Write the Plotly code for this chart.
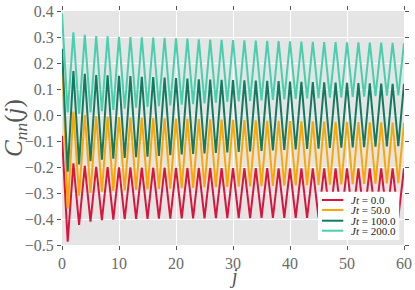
import plotly.graph_objects as go

j = list(range(61))

c_jt0 = [-0.080, -0.487, -0.186, -0.423, -0.196, -0.410, -0.199, -0.404, -0.200, -0.402,
         -0.201, -0.401, -0.201, -0.400, -0.202, -0.400, -0.202, -0.399, -0.202, -0.399,
         -0.203, -0.398, -0.203, -0.398, -0.203, -0.398, -0.203, -0.397, -0.204, -0.397,
         -0.204, -0.397, -0.204, -0.397, -0.204, -0.396, -0.204, -0.396, -0.205, -0.396,
         -0.205, -0.396, -0.205, -0.396, -0.205, -0.395, -0.205, -0.395, -0.205, -0.395,
         -0.205, -0.395, -0.205, -0.395, -0.205, -0.395, -0.205, -0.395, -0.205, -0.395,
         -0.205]
c_jt50 = [0.240, -0.360, 0.013, -0.310, 0.000, -0.300, -0.004, -0.295, -0.006, -0.292,
          -0.008, -0.290, -0.010, -0.288, -0.011, -0.286, -0.012, -0.284, -0.013, -0.283,
          -0.014, -0.281, -0.015, -0.280, -0.016, -0.279, -0.017, -0.278, -0.018, -0.277,
          -0.019, -0.276, -0.020, -0.275, -0.021, -0.274, -0.022, -0.273, -0.022, -0.272,
          -0.023, -0.271, -0.024, -0.270, -0.024, -0.269, -0.025, -0.268, -0.026, -0.267,
          -0.026, -0.266, -0.027, -0.265, -0.028, -0.264, -0.028, -0.263, -0.029, -0.262,
          -0.030]
c_jt100 = [0.255, -0.218, 0.169, -0.190, 0.158, -0.178, 0.154, -0.172, 0.153, -0.168,
           0.151, -0.165, 0.150, -0.162, 0.147, -0.160, 0.146, -0.157, 0.144, -0.155,
           0.142, -0.152, 0.140, -0.150, 0.137, -0.148, 0.136, -0.146, 0.135, -0.144,
           0.134, -0.142, 0.133, -0.140, 0.132, -0.138, 0.131, -0.136, 0.130, -0.134,
           0.129, -0.132, 0.128, -0.130, 0.127, -0.129, 0.126, -0.127, 0.125, -0.126,
           0.124, -0.125, 0.123, -0.124, 0.122, -0.122, 0.121, -0.121, 0.120, -0.120,
           0.120]
c_jt200 = [0.390, 0.010, 0.318, 0.005, 0.308, 0.010, 0.304, 0.015, 0.303, 0.020,
           0.301, 0.024, 0.300, 0.028, 0.299, 0.031, 0.298, 0.034, 0.297, 0.037,
           0.295, 0.040, 0.294, 0.042, 0.291, 0.045, 0.290, 0.047, 0.289, 0.050,
           0.288, 0.052, 0.287, 0.054, 0.286, 0.056, 0.285, 0.058, 0.284, 0.060,
           0.283, 0.062, 0.282, 0.064, 0.281, 0.065, 0.280, 0.067, 0.280, 0.068,
           0.279, 0.070, 0.279, 0.071, 0.278, 0.073, 0.278, 0.074, 0.277, 0.075,
           0.276]

series_names = ["<i>Jt</i> = 0.0", "<i>Jt</i> = 50.0", "<i>Jt</i> = 100.0", "<i>Jt</i> = 200.0"]
series_values = [c_jt0, c_jt50, c_jt100, c_jt200]
series_colors = ["#DC143C", "#FFA500", "#137A60", "#48CFAE"]

x_ticks = [0, 10, 20, 30, 40, 50, 60]
y_ticks = [-0.5, -0.4, -0.3, -0.2, -0.1, 0.0, 0.1, 0.2, 0.3, 0.4]

fig = go.Figure()
for name, vals, col in zip(series_names, series_values, series_colors):
    fig.add_trace(go.Scatter(x=j, y=vals, mode="lines", name=name,
                             line=dict(color=col, width=2), showlegend=False))

serif = "Liberation Serif, DejaVu Serif, serif"
axis_common = dict(showgrid=True, gridcolor="white", gridwidth=1, zeroline=False,
                   showline=False, ticks="outside", ticklen=4, tickwidth=1,
                   tickcolor="#555555", mirror="ticks", automargin=False,
                   tickfont=dict(family=serif, size=16, color="#6a6a6a"))

# compact legend box (paper coordinates), like the matplotlib legend
leg_x0, leg_x1, leg_y0, leg_y1 = 0.7485, 0.986, 0.0214, 0.2278
line_x0, line_x1, text_x = 0.760, 0.8225, 0.842
entry_y = [0.1923, 0.1496, 0.1038, 0.0611]

shapes = [dict(type="rect", xref="paper", yref="paper", x0=leg_x0, x1=leg_x1,
               y0=leg_y0, y1=leg_y1, fillcolor="white", line=dict(width=0), layer="above")]
annotations = []
for name, col, ey in zip(series_names, series_colors, entry_y):
    shapes.append(dict(type="line", xref="paper", yref="paper", x0=line_x0, x1=line_x1,
                       y0=ey, y1=ey, line=dict(color=col, width=2), layer="above"))
    annotations.append(dict(xref="paper", yref="paper", x=text_x, y=ey, text=name,
                            showarrow=False, xanchor="left", yanchor="middle",
                            borderpad=0,
                            font=dict(family=serif, size=11, color="#222222")))

# x-axis title placed just below the tick labels
annotations.append(dict(xref="paper", yref="paper", x=0.5, y=-0.186, text="<i>j</i>",
                        showarrow=False, xanchor="center", yanchor="bottom", borderpad=0,
                        font=dict(family=serif, size=20, color="#555555")))

fig.update_layout(
    width=415, height=290,
    margin=dict(l=62, r=11, t=11, b=45),
    paper_bgcolor="white", plot_bgcolor="#E5E5E5",
    xaxis=dict(range=[0, 60], tickvals=x_ticks, **axis_common),
    yaxis=dict(range=[-0.5, 0.4], tickvals=y_ticks, tickformat=".1f",
               title=dict(text="<i>C</i><sub><i>nn</i></sub>(<i>j</i>)",
                          font=dict(family=serif, size=25, color="#555555"), standoff=2),
               **axis_common),
    shapes=shapes,
    annotations=annotations,
    showlegend=False,
)

fig.write_html("out.html", config={"displayModeBar": False},
               post_script="document.body.style.margin='0';")
